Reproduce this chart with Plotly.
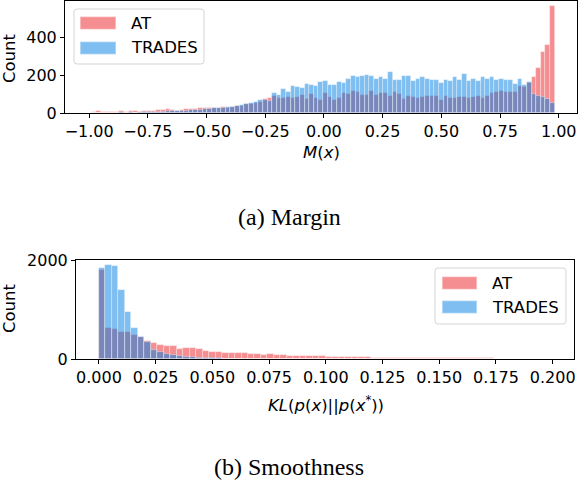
import numpy as np
import plotly.graph_objects as go

# shared bins for both series (one set per panel)
margin_lo, margin_hi, margin_nbins = -0.99, 0.983, 100
smooth_lo, smooth_hi, smooth_nbins = 0.0, 0.2, 70

# (a) Margin - counts per bin
margin_at = [5, 8, 6, 4, 7, 5, 9, 6, 8, 10, 7, 9, 12,
             12, 17, 15, 21, 14, 12, 18, 23,
             20, 23, 26, 24, 28, 25, 27, 30,
             29, 32, 35, 38, 45, 48, 55,
             60, 74, 79, 88, 79, 77, 84, 77, 84, 95, 74, 102, 77, 70, 105, 85,
             70, 77, 105, 102, 117, 112, 95, 95, 116, 95, 105, 105, 91, 109, 98, 74,
             88, 84, 81, 84, 88, 91, 91, 70, 88, 81, 81, 84, 84, 77, 84, 88,
             81, 88, 105, 112, 116, 109, 112, 112, 140, 137, 158, 189, 237, 324, 359, 563]
margin_trades = [1, 0, 2, 1, 2, 1, 3, 2, 3, 2, 4, 3, 5,
                 5, 7, 6, 10, 8, 9, 12, 11,
                 14, 16, 18, 20, 22, 24, 25, 28,
                 30, 33, 37, 42, 45, 52, 58,
                 67, 70, 63, 105, 96, 126, 109, 144, 137, 132, 154, 149, 140, 161, 167, 150,
                 149, 166, 160, 179, 193, 190, 196, 200, 193, 182, 190, 182, 214, 175, 175, 196,
                 196, 168, 179, 190, 182, 175, 175, 160, 172, 168, 190, 172, 207, 168, 182, 168,
                 190, 182, 190, 175, 182, 175, 172, 154, 182, 147, 161, 102, 91, 84, 74, 53]

# (b) Smoothness - counts per bin
smooth_at = [1790, 635, 608, 541, 554, 475, 435, 368, 320, 287, 267, 267, 207, 221, 221, 200,
             167, 150, 140, 120, 120, 120, 114, 107, 94, 87, 100, 87, 80, 67, 54, 67,
             67, 67, 60, 47, 40, 40, 47, 40, 40, 33, 27, 27, 22, 21, 20, 19,
             18, 17, 17, 16, 16, 15, 15, 14, 14, 13, 13, 12, 12, 10,
             8, 6, 5, 4, 3, 2, 2, 1]
smooth_trades = [1830, 1906, 1886, 1384, 943, 635, 448, 341, 187, 140, 100, 73, 53, 40, 32, 25,
                 20, 16, 13, 10, 8, 6, 5, 4, 3, 3, 2, 2, 1, 1, 1, 0,
                 1, 0, 0, 0, 0, 0, 0, 0, 0, 0, 0, 0, 0, 0, 0, 0,
                 0, 0, 0, 0, 0, 0, 0, 0, 0, 0, 0, 0, 0, 0, 0, 0,
                 0, 0, 0, 0, 0, 0]

series_names = ["AT", "TRADES"]

margin_ticks = [-1.0, -0.75, -0.5, -0.25, 0.0, 0.25, 0.5, 0.75, 1.0]
margin_labels = ["\u22121.00", "\u22120.75", "\u22120.50", "\u22120.25",
                 "0.00", "0.25", "0.50", "0.75", "1.00"]
smooth_ticks = [0.0, 0.025, 0.05, 0.075, 0.1, 0.125, 0.15, 0.175, 0.2]
smooth_labels = ["0.000", "0.025", "0.050", "0.075", "0.100",
                 "0.125", "0.150", "0.175", "0.200"]

AT_FILL = "rgba(235,30,35,0.5)"
TR_FILL = "rgba(0,125,225,0.5)"
EDGE = "rgba(255,255,255,0.5)"
W, H = 580, 482
FS = 16


def bin_centers(lo, hi, n):
    w = (hi - lo) / n
    return lo + w * (np.arange(n) + 0.5), w


def px(x):
    return x / W


def py(y):
    return 1 - y / H


mx, mw = bin_centers(margin_lo, margin_hi, margin_nbins)
sx, sw = bin_centers(smooth_lo, smooth_hi, smooth_nbins)

fig = go.Figure()
for xs, ys, wd, name, fill, xa, ya in [
    (mx, margin_at, mw, "AT", AT_FILL, "x", "y"),
    (mx, margin_trades, mw, "TRADES", TR_FILL, "x", "y"),
    (sx, smooth_at, sw, "AT", AT_FILL, "x2", "y2"),
    (sx, smooth_trades, sw, "TRADES", TR_FILL, "x2", "y2"),
]:
    fig.add_trace(go.Bar(
        x=xs, y=ys, width=wd, name=name, xaxis=xa, yaxis=ya,
        marker=dict(color=fill, line=dict(color=EDGE, width=0.7)),
    ))

axis_style = dict(showline=True, mirror=True, linecolor="black", linewidth=1,
                  ticks="outside", ticklen=4, tickcolor="black", showgrid=False,
                  zeroline=False, automargin=False,
                  tickfont=dict(size=FS, color="black"))

fig.update_layout(
    width=W, height=H,
    margin=dict(l=0, r=0, t=0, b=0, autoexpand=False),
    paper_bgcolor="white", plot_bgcolor="white",
    font=dict(family="DejaVu Sans", color="black"),
    barmode="overlay", bargap=0, showlegend=False,
    xaxis=dict(domain=[px(65), px(577)], range=[-1.103, 1.078], anchor="y",
               tickvals=margin_ticks, ticktext=margin_labels, **axis_style),
    yaxis=dict(domain=[py(113), py(1)], range=[0, 591], anchor="x",
               tickvals=[0, 200, 400], **axis_style),
    xaxis2=dict(domain=[px(76), px(574)], range=[-0.0101, 0.2094], anchor="y2",
                tickvals=smooth_ticks, ticktext=smooth_labels, **axis_style),
    yaxis2=dict(domain=[py(359), py(260)], range=[0, 2000], anchor="x2",
                tickvals=[0, 2000], **axis_style),
)


def rounded_box(x0, y0, x1, y1, r=3):
    rx, ry = r / W, r / H
    a, b, c, d = px(x0), py(y1), px(x1), py(y0)  # left, bottom, right, top
    return (f"M {a + rx} {d} L {c - rx} {d} Q {c} {d} {c} {d - ry} "
            f"L {c} {b + ry} Q {c} {b} {c - rx} {b} L {a + rx} {b} "
            f"Q {a} {b} {a} {b + ry} L {a} {d - ry} Q {a} {d} {a + rx} {d} Z")


# matplotlib-style legends drawn by hand (box, wide patches, labels)
legends = [
    # box x0, y0, x1, y1, patch x0, x1, first row y-centre, row step, text x
    (74, 9, 204, 64, 80, 116, 23, 25, 129),
    (435, 268, 566, 324, 442, 477, 283, 24, 490),
]
for bx0, by0, bx1, by1, p0, p1, ry0, step, tx in legends:
    fig.add_shape(type="path", path=rounded_box(bx0, by0, bx1, by1),
                  xref="paper", yref="paper", fillcolor="rgba(255,255,255,0.8)",
                  line=dict(color="#d5d5d5", width=1))
    for k, (name, fill) in enumerate(zip(series_names, [AT_FILL, TR_FILL])):
        yc = ry0 + k * step
        fig.add_shape(type="rect", xref="paper", yref="paper",
                      x0=px(p0), x1=px(p1), y0=py(yc + 6.5), y1=py(yc - 6.5),
                      fillcolor=fill, line=dict(color=EDGE, width=1.5))
        fig.add_annotation(x=px(tx), y=py(yc), xref="paper", yref="paper",
                           text=name, showarrow=False, xanchor="left", yanchor="middle",
                           font=dict(size=FS + 0.5, family="DejaVu Sans", color="black"))

labels = [
    (9, 58, "Count", FS + 0.5, "DejaVu Sans", -90),
    (9, 308, "Count", FS + 0.5, "DejaVu Sans", -90),
    (321, 152, "<i>M</i>(<i>x</i>)", FS + 0.5, "DejaVu Sans", 0),
    (326, 404, "<i>KL</i>(<i>p</i>(<i>x</i>)||<i>p</i>(<i>x</i><sup>*</sup>))",
     FS + 0.5, "DejaVu Sans", 0),
    (289, 217, "(a) Margin", 24, "Liberation Serif", 0),
    (289, 467, "(b) Smoothness", 24, "Liberation Serif", 0),
]
for lx, ly, txt, size, fam, ang in labels:
    fig.add_annotation(x=px(lx), y=py(ly), xref="paper", yref="paper",
                       text=txt, showarrow=False, textangle=ang,
                       font=dict(size=size, family=fam, color="black"),
                       xanchor="center", yanchor="middle")

fig.write_html("out.html", config={"displayModeBar": False},
               post_script="document.body.style.margin='0';document.body.style.overflow='hidden';")
